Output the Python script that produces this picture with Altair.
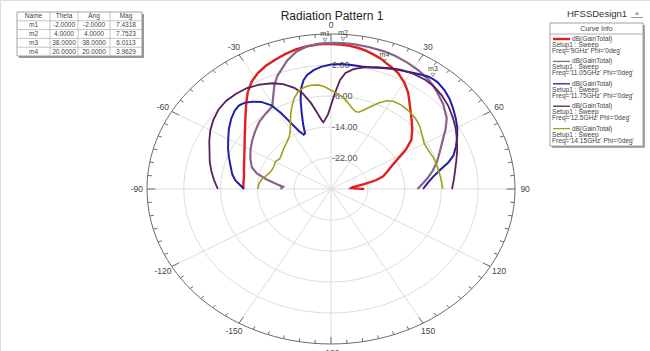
import altair as alt
import pandas as pd

FONT = "Liberation Sans"

# ---- Gain cuts (Phi = 0deg), theta in degrees, dB(GainTotal) ----
freqs = ["9GHz", "11.05GHz", "11.75GHz", "12.5GHz", "14.15GHz"]
colors = ["#e0201e", "#8a6488", "#2020a6", "#5a1f5e", "#a0a020"]
widths = [2.4, 1.6, 1.6, 1.6, 1.6]

theta_9 = [-90, -85, -80, -75, -70, -65, -60, -55, -50, -45, -40, -36, -32, -28, -24, -20, -16, -12, -8, -4,
           -2, 0, 3, 6, 9, 12, 15, 18, 20, 23, 26, 30, 34, 39, 44, 49, 54, 58, 62, 66,
           70, 74, 77, 80, 83, 85, 87, 88, 89, 90]
gain_9 = [-10.9, -10.9, -10.8, -10.4, -9.9, -9.2, -8.3, -7.1, -5.6, -3.7, -1.3, 0.8, 2.6, 3.9, 4.8, 5.5, 6.2, 6.8, 7.2, 7.4,
          7.43, 7.42, 7.35, 7.2, 6.9, 6.5, 5.9, 5.3, 4.7, 4.0, 3.3, 1.8, 0.0, -2.7, -4.8, -6.6, -8.4, -10.8, -13.6, -15.6,
          -17.0, -18.2, -20.0, -22.5, -24.6, -25.4, -25.6, -25.0, -24.0, -22.8]

theta_1105 = [-90, -87, -84, -80, -76, -72, -66, -60, -54, -48, -42, -36, -31, -28, -25, -22, -19, -16, -12, -8,
              -4, 0, 4, 8, 13, 18, 22, 27, 32, 37, 42, 48, 54, 58, 63, 68, 73, 78, 82, 86, 90]
gain_1105 = [-19.0, -19.6, -18.2, -15.8, -13.4, -11.9, -10.8, -9.8, -8.8, -7.8, -6.7, -5.9, -5.2, -3.2, -0.8, 1.3, 2.8, 4.5, 6.2, 7.2,
             7.6, 7.7, 7.7523, 7.7, 7.55, 7.35, 7.1, 6.6, 6.0, 5.3, 4.2, 2.8, 1.1, -0.6, -2.8, -4.5, -5.9, -7.4, -8.7, -10.0, -11.2]

theta_1175 = [-90, -87, -84, -80, -75, -70, -65, -60, -55, -50, -46, -43, -40, -37, -34, -31, -29, -27, -25, -23,
              -21.5, -20, -18, -16, -14, -12, -10, -7, -4, 0, 4, 8, 12, 16, 20, 24, 28, 31, 34, 36,
              38, 40, 44, 48, 52, 56, 60, 64, 68, 72, 75, 78, 82, 86, 90]
gain_1175 = [-11.1, -10.2, -9.1, -8.2, -7.4, -6.4, -5.3, -4.2, -2.9, -1.7, -0.9, -0.6, -0.9, -1.8, -2.9, -4.8, -7.6, -11.0, -13.5, -14.8,
             -14.6, -12.3, -9.4, -6.0, -3.2, -1.3, -0.1, 0.9, 1.6, 2.1, 2.3, 2.3, 2.3, 2.6, 3.2, 3.9, 4.4, 4.9, 5.5, 5.9,
             6.0113, 6.0, 5.5, 4.7, 3.7, 2.7, 1.7, 0.5, -0.7, -2.0, -3.6, -5.6, -7.6, -9.0, -10.0]

theta_125 = [-90, -85, -80, -75, -70, -65, -60, -55, -50, -45, -40, -35, -30, -25, -21, -17, -14, -11, -8.5, -6.5,
             -5.5, -4, -2, 0, 2, 4, 6, 9, 13, 17, 21, 26, 31, 36, 40, 45, 50, 55, 60, 65,
             70, 75, 80, 85, 90]
gain_125 = [-5.4, -4.5, -3.6, -2.7, -1.9, -0.8, 0.3, 1.2, 1.9, 2.2, 2.1, 1.8, 1.1, 0.1, -1.0, -2.7, -4.6, -7.5, -10.3, -12.2,
            -12.7, -12.0, -10.8, -8.4, -5.2, -1.8, 0.1, 1.3, 2.2, 2.9, 3.5, 4.3, 4.7, 4.85, 4.7, 4.1, 3.3, 2.3, 1.3, 0.2,
            -0.8, -1.8, -2.6, -3.2, -3.7]

theta_1415 = [-90, -85, -80, -75, -70, -65, -60, -55, -50, -45, -40, -35, -31, -28, -25, -22, -19, -16, -13, -10,
              -6, -3, 0, 3, 6, 9, 12, 15, 17, 19, 22, 25, 28, 31, 35, 40, 45, 50, 55, 60,
              65, 70, 75, 80, 85, 90]
gain_1415 = [-14.1, -14.3, -14.8, -15.7, -16.2, -16.3, -16.0, -16.4, -16.0, -15.4, -14.8, -14.0, -12.8, -11.2, -9.2, -7.2, -5.3, -3.9, -3.2, -2.9,
             -3.0, -3.6, -4.5, -5.3, -6.1, -7.3, -8.5, -9.3, -9.3, -8.5, -7.1, -5.5, -4.2, -3.6, -3.5, -3.7, -4.1, -4.8, -5.8, -6.6,
             -6.6, -6.3, -6.2, -6.1, -5.9, -5.7]

curve_thetas = [theta_9, theta_1105, theta_1175, theta_125, theta_1415]
curve_gains = [gain_9, gain_1105, gain_1175, gain_125, gain_1415]

# ---- Markers ----
marker_names = ["m1", "m2", "m3", "m4"]
marker_theta = [-2.0, 4.0, 38.0, 20.0]
marker_ang = [-2.0, 4.0, 38.0, 20.0]
marker_mag = [7.4318, 7.7523, 6.0113, 3.9629]

# ---- Polar grid ----
r_min, r_max = -30.0, 10.0
ring_levels = [-22.0, -14.0, -6.0, 2.0]
spoke_angles = [-150, -120, -90, -60, -30, 0, 30, 60, 90, 120, 150, 180]
angle_labels = ["-150", "-120", "-90", "-60", "-30", "0", "30", "60", "90", "120", "150", "-180"]

# ---- build tables ----
curves = pd.concat(
    [pd.DataFrame({"freq": f, "theta": t, "gain": g, "idx": range(len(t))})
     for f, t, g in zip(freqs, curve_thetas, curve_gains)],
    ignore_index=True,
)
markers = pd.DataFrame({"name": marker_names, "theta": marker_theta, "gain": marker_mag})
ring_angles = list(range(0, 361, 3))
rings = pd.DataFrame(
    [{"level": lv, "theta": a, "gain": lv, "idx": i} for lv in ring_levels + [r_max] for i, a in enumerate(ring_angles)]
)
ring_labels = pd.DataFrame({"gain": ring_levels, "theta": [0.0] * len(ring_levels),
                            "label": [f"{v:.2f}" for v in ring_levels]})
spokes = pd.DataFrame({"theta": spoke_angles})
tick_angles = list(range(-175, 181, 5))
ticks = pd.DataFrame({"theta": tick_angles, "major": [a % 30 == 0 for a in tick_angles]})
alabels = pd.DataFrame({"theta": spoke_angles, "label": angle_labels})

span = r_max - r_min
xs = alt.Scale(domain=[-71.96, 69.35], nice=False, zero=False)
ys = alt.Scale(domain=[-41.81, 48.77], nice=False, zero=False)
RAD = "PI/180"


def polar(chart):
    rfield = "(datum.gain - (%g))" % r_min
    return chart.transform_calculate(
        x=f"{rfield} * sin(datum.theta * {RAD})",
        y=f"{rfield} * cos(datum.theta * {RAD})",
    )


X = alt.X("x:Q", scale=xs, axis=None)
Y = alt.Y("y:Q", scale=ys, axis=None)

ring_layer = polar(alt.Chart(rings)).mark_line(strokeWidth=1).encode(
    x=X, y=Y, order="idx:Q", detail="level:N",
    color=alt.condition(alt.datum.level == r_max, alt.value("#6a6a6a"), alt.value("#dddddd")),
)

spoke_layer = alt.Chart(spokes).transform_calculate(
    x0="0", y0="0",
    x=f"{span} * sin(datum.theta * {RAD})",
    y=f"{span} * cos(datum.theta * {RAD})",
).mark_rule(color="#dddddd", strokeWidth=1).encode(
    x=alt.X("x0:Q", scale=xs, axis=None), y=alt.Y("y0:Q", scale=ys, axis=None), x2="x:Q", y2="y:Q"
)

tick_layer = alt.Chart(ticks).transform_calculate(
    rin=f"{span} - (datum.major ? 1.8 : 0.9)",
).transform_calculate(
    x=f"{span} * sin(datum.theta * {RAD})",
    y=f"{span} * cos(datum.theta * {RAD})",
    xi=f"datum.rin * sin(datum.theta * {RAD})",
    yi=f"datum.rin * cos(datum.theta * {RAD})",
).mark_rule(color="#6a6a6a", strokeWidth=1).encode(x=X, y=Y, x2="xi:Q", y2="yi:Q")

angle_label_layer = alt.Chart(alabels).transform_calculate(
    x=f"{span + 2.2} * sin(datum.theta * {RAD})",
    y=f"{span + 2.2} * cos(datum.theta * {RAD})",
).mark_text(font=FONT, fontSize=8.5, color="#444444", align="center", baseline="middle").encode(
    x=X, y=Y, text="label:N"
)

ring_label_layer = polar(alt.Chart(ring_labels)).mark_text(
    font=FONT, fontSize=9, color="#555555", align="left", baseline="middle", dx=1
).encode(x=X, y=Y, text="label:N")

curve_layer = polar(alt.Chart(curves)).mark_line().encode(
    x=X, y=Y, order="idx:Q",
    color=alt.Color("freq:N", scale=alt.Scale(domain=freqs, range=colors), legend=None),
    strokeWidth=alt.StrokeWidth("freq:N", scale=alt.Scale(domain=freqs, range=widths), legend=None),
)

marker_pts = polar(alt.Chart(markers)).mark_point(
    shape="triangle-down", size=16, filled=False, color="#555555", strokeWidth=0.8, yOffset=-4
).encode(x=X, y=Y)
marker_txt = polar(alt.Chart(markers)).mark_text(
    font=FONT, fontSize=7, color="#444444", dy=-10
).encode(x=X, y=Y, text="name:N")


# ---- annotation helpers (pixel placed) ----
def blank():
    return alt.Chart(alt.Data(values=[{}]))


def txt(s, px, py, size=7.0, color="#444444", align="center"):
    return blank().mark_text(text=s, font=FONT, fontSize=size, color=color, align=align,
                             baseline="middle").encode(x=alt.value(px), y=alt.value(py))


def box(x1, y1, x2, y2, fill, stroke=None, sw=1.0):
    kw = dict(fill=fill, strokeWidth=sw)
    if stroke:
        kw["stroke"] = stroke
    return blank().mark_rect(**kw).encode(x=alt.value(x1), x2=alt.value(x2), y=alt.value(y1), y2=alt.value(y2))


def hrule(x1, x2, y, color, sw=1.0):
    return blank().mark_rule(color=color, strokeWidth=sw).encode(x=alt.value(x1), x2=alt.value(x2), y=alt.value(y))


def vrule(x, y1, y2, color, sw=1.0):
    return blank().mark_rule(color=color, strokeWidth=sw).encode(x=alt.value(x), y=alt.value(y1), y2=alt.value(y2))


annot = []
# title and design name
annot.append(txt("Radiation Pattern 1", 332, 16, size=12, color="#222222"))
annot.append(txt("HFSSDesign1", 597, 14, size=9.5, color="#333333"))
annot.append(blank().mark_point(shape="triangle-up", size=20, filled=True, color="#8a8a8a").encode(
    x=alt.value(637), y=alt.value(13)))
annot.append(hrule(631, 643, 17.5, "#9a9a9a", 1))

# marker table
tx0, tx1, ty0, ty1 = 17, 142, 12, 56
col_edges = [tx0, 50, 78, 110, tx1]
row_edges = [ty0, 20.8, 29.6, 38.4, 47.2, ty1]
annot.append(box(tx0 + 2, ty0 + 2, tx1 + 2, ty1 + 2, "#9a9a9a"))
annot.append(box(tx0, ty0, tx1, ty1, "#ffffff", "#8a8a8a", 0.8))
for ce in col_edges[1:-1]:
    annot.append(vrule(ce, ty0, ty1, "#b5b5b5", 0.8))
for re in row_edges[1:-1]:
    annot.append(hrule(tx0, tx1, re, "#b5b5b5", 0.8))
col_mid = [(col_edges[i] + col_edges[i + 1]) / 2 for i in range(4)]
row_mid = [(row_edges[i] + row_edges[i + 1]) / 2 for i in range(5)]
header = ["Name", "Theta", "Ang", "Mag"]
for c, h in enumerate(header):
    annot.append(txt(h, col_mid[c], row_mid[0], size=6.5))
for r in range(len(marker_names)):
    cells = [marker_names[r], f"{marker_theta[r]:.4f}", f"{marker_ang[r]:.4f}", f"{marker_mag[r]:.4f}"]
    for c, v in enumerate(cells):
        annot.append(txt(v, col_mid[c], row_mid[r + 1], size=6.5))

# curve info box
lx0, lx1, ly0, ly1 = 550, 643, 23, 146
annot.append(box(lx0 + 2, ly0 + 2, lx1 + 2, ly1 + 2, "#a8a8a8"))
annot.append(box(lx0, ly0, lx1, ly1, "#ffffff", "#8a8a8a", 0.8))
annot.append(txt("Curve Info", (lx0 + lx1) / 2, 28.5, size=7))
annot.append(hrule(lx0, lx1, 34, "#9a9a9a", 0.8))
entry_h = (ly1 - 34) / len(freqs)
for i, f in enumerate(freqs):
    base = 34 + i * entry_h
    annot.append(hrule(553, 570, base + 5.0, colors[i], widths[i] if i == 0 else 1.3))
    annot.append(txt("dB(GainTotal)", 572, base + 5.0, size=6.6, align="left"))
    annot.append(txt("Setup1 : Sweep", 552, base + 11.0, size=6.6, align="left"))
    annot.append(txt(f"Freq='{f}' Phi='0deg'", 552, base + 17.0, size=6.6, align="left"))

chart = alt.layer(
    spoke_layer, ring_layer, tick_layer, ring_label_layer, angle_label_layer,
    curve_layer, marker_pts, marker_txt, *annot
).properties(
    width=650, height=351, padding=0, autosize=alt.AutoSizeParams(type="none")
).configure_view(stroke=None).configure(background="#ffffff")

chart.save("out.html", embed_options={"renderer": "svg", "actions": False})
